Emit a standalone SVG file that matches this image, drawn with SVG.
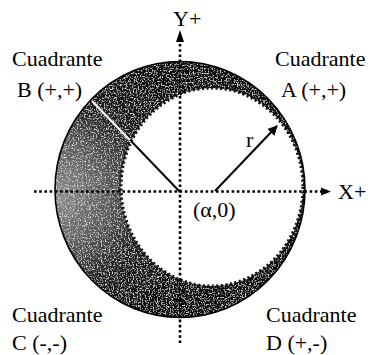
<svg xmlns="http://www.w3.org/2000/svg" width="368" height="355" viewBox="0 0 368 355">
<style>
text{font-family:"Liberation Serif","Times New Roman",serif;font-size:22px;fill:#000}
.axis{stroke:#000;stroke-width:2.6;stroke-dasharray:2.6 2.6;fill:none}
.ray{stroke:#000;stroke-width:2;fill:none}
</style>
<defs>
<radialGradient id="ringfill" gradientUnits="userSpaceOnUse" cx="55" cy="195" r="175">
<stop offset="0" stop-color="#8c8c8c"/>
<stop offset="0.3" stop-color="#5a5a5a"/>
<stop offset="0.55" stop-color="#1c1c1c"/>
<stop offset="1" stop-color="#070707"/>
</radialGradient>
<filter id="grain" x="0" y="0" width="1" height="1">
<feTurbulence type="fractalNoise" baseFrequency="0.75" numOctaves="2" seed="4" result="n"/>
<feColorMatrix in="n" type="matrix" values="0 0 0 0 1 0 0 0 0 1 0 0 0 0 1 3 0 0 0 -1.55" result="w"/>
<feComposite in="w" in2="SourceGraphic" operator="atop"/>
</filter>
<marker id="arr" viewBox="0 0 10 10" refX="9" refY="5" markerWidth="10" markerHeight="10" markerUnits="userSpaceOnUse" orient="auto">
<path d="M0,0 L10,5 L0,10 Z" fill="#000"/>
</marker>
</defs>
<g id="ring">
<ellipse cx="180" cy="189.5" rx="125" ry="128" fill="url(#ringfill)" filter="url(#grain)"/>
<ellipse cx="180" cy="189.5" rx="125" ry="128" fill="none" stroke="#000" stroke-width="1.6"/>
<line x1="180" y1="192" x2="92" y2="101" stroke="#fff" stroke-width="2"/>
</g>
<g id="inner">
<ellipse cx="212" cy="187" rx="91" ry="99" fill="#fff" stroke="#111" stroke-width="4" stroke-dasharray="2 2.6"/>
<ellipse cx="212" cy="187" rx="89.5" ry="97.5" fill="#fff"/>
</g>
<g id="connectors">
<line class="axis" x1="34" y1="191.5" x2="322" y2="191.5"/>
<path d="M321,187.5 L331,191.5 L321,195.5 Z" fill="#000"/>
<line class="axis" x1="180" y1="44" x2="180" y2="345"/>
<path d="M176,42 L180,30 L184,42 Z" fill="#000"/>
<line class="ray" x1="180" y1="192" x2="131.3" y2="141.3"/>
<line class="ray" x1="215" y1="191" x2="277" y2="126" marker-end="url(#arr)"/>
</g>
<g id="labels">
<text x="338" y="199">X+</text>
<text x="173" y="26">Y+</text>
<text x="193" y="217">(α,0)</text>
<text x="246" y="147">r</text>
<text x="12" y="66">Cuadrante</text>
<text x="17" y="97">B (+,+)</text>
<text x="275" y="66">Cuadrante</text>
<text x="281" y="97">A (+,+)</text>
<text x="12" y="322">Cuadrante</text>
<text x="12" y="350">C (-,-)</text>
<text x="266" y="322">Cuadrante</text>
<text x="266" y="350">D (+,-)</text>
</g>
</svg>
